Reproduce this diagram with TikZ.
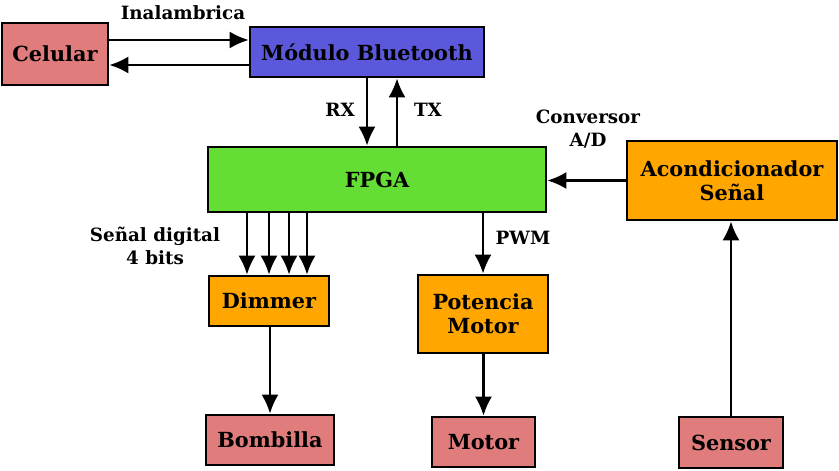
\documentclass[tikz,border=0pt]{standalone}
\usepackage{fontspec}
\setmainfont{DejaVu Serif}
\usepackage{xcolor}
\usetikzlibrary{arrows.meta}
\definecolor{rosa}{RGB}{224,124,124}
\definecolor{azul}{RGB}{92,88,220}
\definecolor{verde}{RGB}{100,222,52}
\definecolor{naranja}{RGB}{255,166,0}
\tikzset{flecha/.style={-{Latex[length=19pt,width=17pt]}, line width=2.4pt}}
\begin{document}
\begin{tikzpicture}[x=1pt,y=-1pt]
    \tikzstyle{bloque}=[draw, line width=2.6pt, align=center, font=\fontsize{20.8}{24}\selectfont\bfseries, inner sep=0pt]
    \tikzstyle{etiqueta}=[align=center, font=\fontsize{18.3}{23}\selectfont\bfseries]
    \useasboundingbox (0,0) rectangle (839,471);
	\node [bloque, fill=rosa, minimum width=106pt, minimum height=62pt] (cel) at (55, 54) {Celular};
	\node [bloque, fill=azul, minimum width=234pt, minimum height=50pt] (bt) at (367, 52) {Módulo Bluetooth};
	
	\node [bloque, fill=verde, minimum width=338pt, minimum height=65pt] (fpga) at (377, 179.5) {FPGA};
	\node [bloque, fill=naranja, minimum width=210pt, minimum height=79pt] (acond) at (732, 180.5) {Acondicionador\\ Señal};
	
	\node [bloque, fill=naranja, minimum width=120pt, minimum height=50pt] (dim) at (269, 301) {Dimmer};
	\node [bloque, fill=naranja, minimum width=130pt, minimum height=78pt] (pot) at (483, 314) {Potencia\\ Motor};
	
	\node [bloque, fill=rosa, minimum width=128pt, minimum height=50pt] (bomb) at (270, 440) {Bombilla};
	\node [bloque, fill=rosa, minimum width=103pt, minimum height=50pt] (mot) at (483.5, 442) {Motor};
	\node [bloque, fill=rosa, minimum width=104pt, minimum height=51pt] (sen) at (731, 442.5) {Sensor};
	
	\draw [flecha] (cel.east |- 0, 40) -- (bt.west |- 0, 40);
	\draw [flecha] (bt.west |- 0, 65) -- (cel.east |- 0, 65);
	\draw [flecha] (bt.south -| 367, 0) -- (fpga.north -| 367, 0);
	\draw [flecha] (fpga.north -| 397, 0) -- (bt.south -| 397, 0);
	\draw [flecha] (acond.west) -- (fpga.east |- acond.west);
	\draw [flecha] (sen.north) -- (acond.south -| sen.north);

	\foreach \x in {247, 269, 289, 307}
	    \draw [flecha] (fpga.south -| \x, 0) -- (dim.north -| \x, 0);
	\draw [flecha] (fpga.south -| pot.north) -- (pot.north);
	\draw [flecha] (dim.south -| bomb.north) -- (bomb.north);
	\draw [flecha] (pot.south -| mot.north) -- (mot.north);

	\node [etiqueta] (inal) at (183, 13) {Inalambrica};
	\node [etiqueta] (rx) at (340, 110) {RX};
	\node [etiqueta] (tx) at (428, 110) {TX};
	\node [etiqueta] (conv) at (588, 129) {Conversor\\ A/D};
	\node [etiqueta] (sdig) at (155, 246) {Señal digital\\ 4 bits};
	\node [etiqueta] (pwm) at (523, 238) {PWM};
\end{tikzpicture}
\end{document}
